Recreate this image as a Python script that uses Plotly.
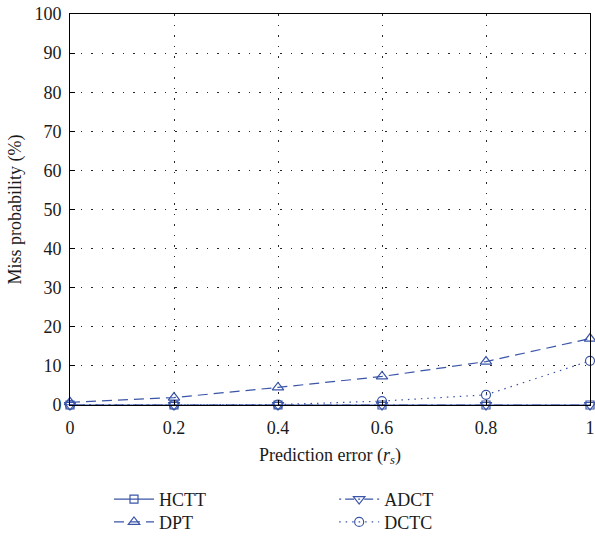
import plotly.graph_objects as go

x = [0, 0.2, 0.4, 0.6, 0.8, 1.0]
hctt = [0, 0, 0, 0, 0, 0]
dpt = [0.7, 1.9, 4.5, 7.3, 11.1, 17.0]
adct = [0, 0, 0, 0, 0, 0]
dctc = [0, 0, 0.1, 1.0, 2.6, 11.3]

x_ticks = [0, 0.2, 0.4, 0.6, 0.8, 1]
x_tick_labels = ["0", "0.2", "0.4", "0.6", "0.8", "1"]
y_ticks = list(range(0, 101, 10))

color = "#3a55a8"
font = "Liberation Serif"
tcolor = "#1a1a1a"

fig = go.Figure()
fig.add_trace(go.Scatter(x=x, y=hctt, name="HCTT", mode="lines+markers",
                         line=dict(color=color, width=1.2, dash="solid"),
                         marker=dict(symbol="square-open", size=8, color=color, line=dict(width=1.2)),
                         cliponaxis=False, legend="legend", showlegend=True))
fig.add_trace(go.Scatter(x=x, y=dpt, name="DPT", mode="lines+markers",
                         line=dict(color=color, width=1.2, dash="10px,6px"),
                         marker=dict(symbol="triangle-up-open", size=10, color=color, line=dict(width=1.2)),
                         cliponaxis=False, legend="legend2", showlegend=True))
fig.add_trace(go.Scatter(x=x, y=adct, name="ADCT", mode="lines+markers",
                         line=dict(color=color, width=1.2, dash="2px,4px,9px,4px"),
                         marker=dict(symbol="triangle-down-open", size=10, color=color, line=dict(width=1.2)),
                         cliponaxis=False, legend="legend3", showlegend=True))
fig.add_trace(go.Scatter(x=x, y=dctc, name="DCTC", mode="lines+markers",
                         line=dict(color=color, width=1.2, dash="1.5px,5px"),
                         marker=dict(symbol="circle-open", size=9, color=color, line=dict(width=1.2)),
                         cliponaxis=False, legend="legend4", showlegend=True))

axis_common = dict(showline=True, linecolor="black", linewidth=1, mirror=True,
                   ticks="inside", ticklen=5, tickcolor="black", automargin=False,
                   showgrid=True, gridcolor="rgba(0,0,0,0.85)", griddash="1.5px,9px", gridwidth=1,
                   zeroline=False, tickfont=dict(family=font, size=18, color=tcolor))

fig.update_xaxes(range=[0, 1], tickvals=x_ticks, ticktext=x_tick_labels, ticklabelstandoff=6,
                 title=dict(text="Prediction error (<i>r<sub>s</sub></i>)", font=dict(family=font, size=18, color=tcolor), standoff=11),
                 **axis_common)
fig.update_yaxes(range=[0, 100], tickvals=y_ticks, ticklabelstandoff=4,
                 title=dict(text="Miss probability (%)", font=dict(family=font, size=18, color=tcolor), standoff=8),
                 **axis_common)

legend_common = dict(orientation="v", bgcolor="rgba(0,0,0,0)", font=dict(family=font, size=18, color=tcolor),
                     xanchor="left", yanchor="top", tracegroupgap=0, itemwidth=40)
row1_y = -0.194
row2_y = -0.2525
col1_x = 0.075
col2_x = 0.508
fig.update_layout(
    width=595, height=546,
    showlegend=True,
    margin=dict(l=70, r=5, t=14, b=136),
    plot_bgcolor="white", paper_bgcolor="white",
    legend=dict(x=col1_x, y=row1_y, **legend_common),
    legend2=dict(x=col1_x, y=row2_y, **legend_common),
    legend3=dict(x=col2_x, y=row1_y, **legend_common),
    legend4=dict(x=col2_x, y=row2_y, **legend_common),
)

fig.write_html("out.html")
